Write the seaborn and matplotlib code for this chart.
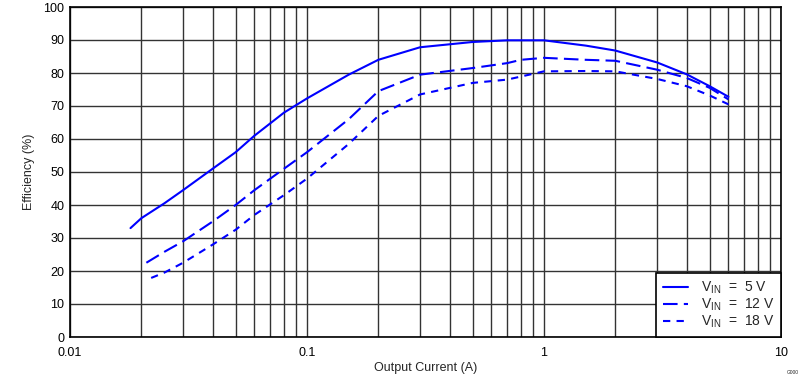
import matplotlib
matplotlib.use("Agg")
import matplotlib.pyplot as plt
import seaborn as sns
import pandas as pd
from matplotlib.ticker import FixedLocator, LogLocator, NullFormatter, FixedFormatter
from matplotlib.lines import Line2D

# Data
i_5v = [0.018, 0.02, 0.025, 0.03, 0.04, 0.05, 0.06, 0.08, 0.1, 0.15, 0.2, 0.3, 0.5, 0.7, 1.0, 1.5, 2.0, 3.0, 4.0, 5.0, 6.0]
e_5v = [33.0, 36.0, 40.5, 44.5, 51.0, 56.0, 61.0, 68.0, 72.3, 79.5, 84.0, 87.8, 89.4, 89.9, 89.9, 88.3, 86.8, 83.2, 79.6, 76.0, 72.8]

i_12v = [0.021, 0.025, 0.03, 0.04, 0.05, 0.06, 0.08, 0.1, 0.15, 0.2, 0.3, 0.5, 0.7, 0.8, 1.0, 1.5, 2.0, 3.0, 4.0, 5.0, 6.0]
e_12v = [22.5, 25.8, 29.0, 35.0, 40.0, 44.5, 51.0, 56.0, 66.0, 74.5, 79.5, 81.5, 83.0, 84.0, 84.6, 84.0, 83.7, 81.0, 78.5, 75.5, 72.0]

i_18v = [0.022, 0.025, 0.03, 0.04, 0.05, 0.06, 0.08, 0.1, 0.15, 0.2, 0.3, 0.5, 0.7, 1.0, 1.5, 2.0, 3.0, 4.0, 5.0, 6.0]
e_18v = [17.9, 19.5, 22.5, 28.0, 32.5, 37.0, 43.0, 48.0, 58.5, 67.0, 73.5, 77.0, 78.0, 80.5, 80.6, 80.5, 78.2, 76.0, 73.2, 70.5]

series = ["VIN = 5 V", "VIN = 12 V", "VIN = 18 V"]
labels = [r"V$_{\mathregular{IN}}$  =  5 V", r"V$_{\mathregular{IN}}$  =  12 V", r"V$_{\mathregular{IN}}$  =  18 V"]
x_ticks = [0.01, 0.1, 1, 10]
x_ticklabels = ["0.01", "0.1", "1", "10"]
y_ticks = list(range(0, 101, 10))

df = pd.concat([
    pd.DataFrame({"I": i_5v, "E": e_5v, "s": series[0]}),
    pd.DataFrame({"I": i_12v, "E": e_12v, "s": series[1]}),
    pd.DataFrame({"I": i_18v, "E": e_18v, "s": series[2]}),
])

sns.set_style("white")
plt.rcParams["font.family"] = ["Liberation Sans", "DejaVu Sans"]
plt.rcParams["font.size"] = 9
plt.rcParams["mathtext.fontset"] = "custom"
plt.rcParams["mathtext.rm"] = "Liberation Sans"

fig = plt.figure(figsize=(8.03, 3.82), dpi=100)
ax = fig.add_axes([70 / 803, 45 / 382, 711 / 803, 330 / 382])

dashes = {series[0]: "", series[1]: (7, 3), series[2]: (3.5, 3)}
sns.lineplot(data=df, x="I", y="E", hue="s", style="s",
             palette={s: "#0000ff" for s in series}, dashes=dashes,
             linewidth=1.5, ax=ax, legend=False, sort=False, estimator=None)

ax.set_xscale("log")
ax.set_xlim(0.01, 10)
ax.set_ylim(0, 100)
ax.xaxis.set_major_locator(FixedLocator(x_ticks))
ax.xaxis.set_major_formatter(FixedFormatter(x_ticklabels))
ax.xaxis.set_minor_locator(LogLocator(base=10, subs=range(2, 10)))
ax.xaxis.set_minor_formatter(NullFormatter())
ax.yaxis.set_major_locator(FixedLocator(y_ticks))

ax.grid(True, which="both", axis="x", color="#333333", linewidth=1.0)
ax.grid(True, which="major", axis="y", color="#333333", linewidth=1.0)
ax.set_axisbelow(True)
ax.tick_params(axis="y", which="both", length=0, labelsize=9, colors="black", pad=4)
ax.tick_params(axis="x", which="both", length=0, labelsize=9, colors="black", pad=7)
for sp in ax.spines.values():
    sp.set_color("black")
    sp.set_linewidth(1.2)

ax.set_xlabel("Output Current (A)", fontsize=9, labelpad=2)
ax.set_ylabel("Efficiency (%)", fontsize=9, labelpad=6)

handles = [Line2D([], [], color="#0000ff", linewidth=1.5, linestyle="-"),
           Line2D([], [], color="#0000ff", linewidth=1.5, dashes=(7, 3)),
           Line2D([], [], color="#0000ff", linewidth=1.5, dashes=(3.5, 3))]
leg = ax.legend(handles, labels, loc="lower right", bbox_to_anchor=(1.0, 0.0),
                frameon=True, fancybox=False, framealpha=1, edgecolor="black",
                fontsize=10, handlelength=1.8, borderpad=0.5, labelspacing=0.05,
                handletextpad=0.9, borderaxespad=0)
leg.get_frame().set_linewidth(1.2)

fig.text(793 / 803, 10 / 382, "G000", fontsize=3.5, ha="center", va="center")

fig.savefig("out.png", dpi=100)
